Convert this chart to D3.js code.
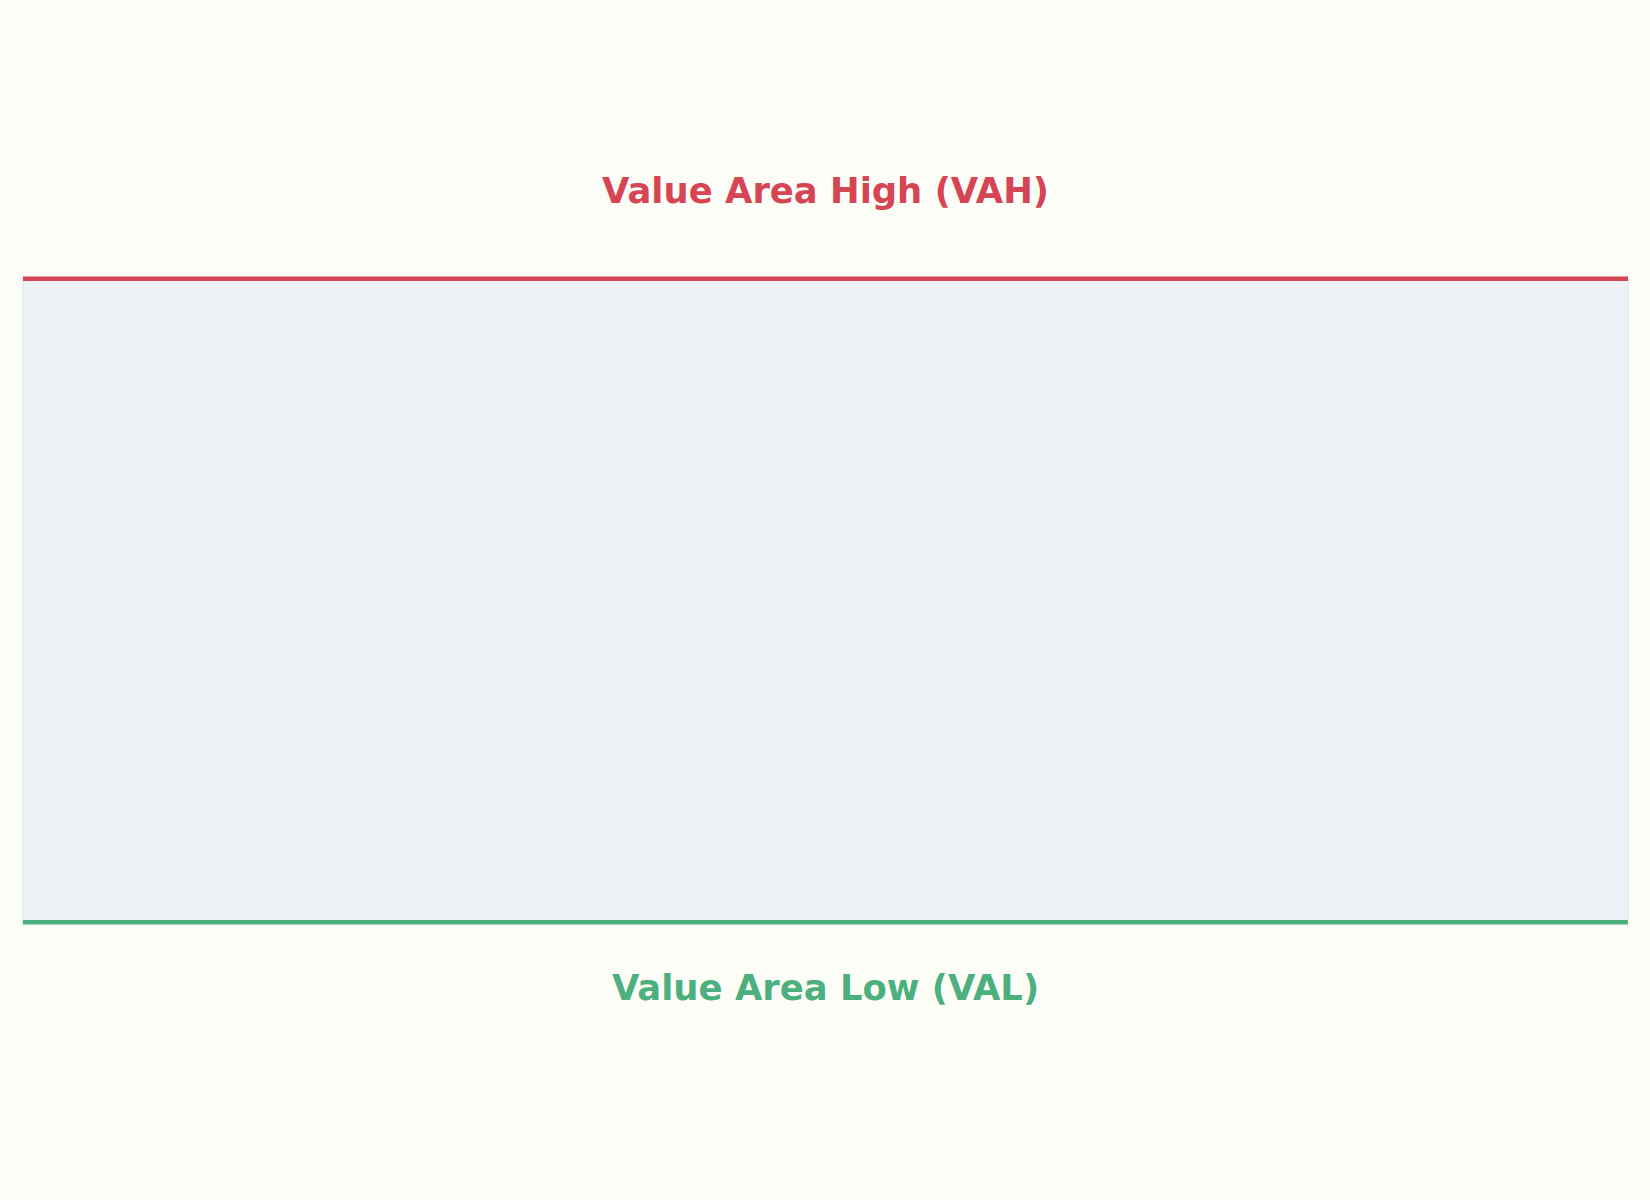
<!DOCTYPE html>
<html>
<head>
<meta charset="utf-8">
<script src="https://d3js.org/d3.v7.min.js"></script>
<style>
  html, body { margin: 0; padding: 0; background: #fdfdf8; }
</style>
</head>
<body>
<div id="chart"></div>
<script>

// value area levels
const levelNames = ["Value Area High (VAH)", "Value Area Low (VAL)"];
const levelValues = [80, 20];
const levelColors = ["#d64553", "#4caf7e"];
const yDomain = [0, 100];

const width = 1650, height = 1200;
const margin = {left: 23, right: 22};

const svg = d3.select("#chart")
  .append("svg")
    .attr("width", width)
    .attr("height", height)
    .style("display", "block");

svg.append("rect")
    .attr("width", width)
    .attr("height", height)
    .attr("fill", "#fdfdf8");

const x = d3.scaleLinear()
    .domain([0, 1])
    .range([margin.left, width - margin.right]);

const y = d3.scaleLinear()
    .domain(yDomain)
    .range([1136.9, 64.1]);

const vah = levelValues[0], val = levelValues[1];

// shaded value area
svg.append("rect")
    .attr("x", x(0))
    .attr("y", y(vah))
    .attr("width", x(1) - x(0))
    .attr("height", y(val) - y(vah))
    .attr("fill", "#edf2f7")
    .attr("stroke", "#dbe4ee")
    .attr("stroke-width", 1);

// level lines
svg.append("g")
  .selectAll("line")
  .data(levelValues)
  .join("line")
    .attr("x1", x(0))
    .attr("x2", x(1))
    .attr("y1", d => y(d))
    .attr("y2", d => y(d))
    .attr("stroke", (d, i) => levelColors[i])
    .attr("stroke-width", 4.5);

// labels, above the high and below the low
svg.append("g")
  .selectAll("text")
  .data(levelValues)
  .join("text")
    .attr("x", (x(0) + x(1)) / 2)
    .attr("y", (d, i) => i === 0 ? y(d) - 76 : y(d) + 78)
    .attr("text-anchor", "middle")
    .attr("fill", (d, i) => levelColors[i])
    .style("font-family", "'DejaVu Sans', sans-serif")
    .style("font-weight", "bold")
    .style("font-size", "35.4px")
    .text((d, i) => levelNames[i]);

</script>
</body>
</html>
